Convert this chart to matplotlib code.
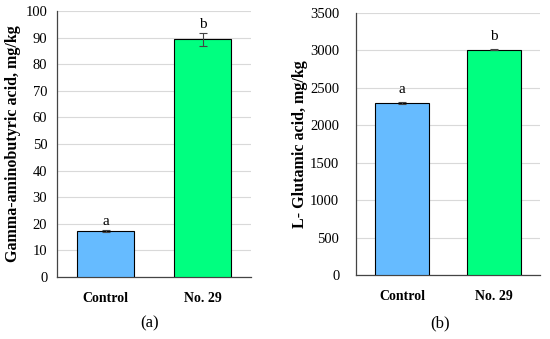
import matplotlib
matplotlib.use("Agg")
import matplotlib.pyplot as plt

categories = ["Control", "No. 29"]
gaba_values = [17.2, 89.3]
gaba_errors = [0.3, 2.3]
glu_values = [2295, 3010]
glu_errors = [10, 10]
gaba_letters = ["a", "b"]
glu_letters = ["a", "b"]
colors = ["#66BBFF", "#00FF80"]

plt.rcParams['font.family'] = ['Liberation Serif', 'DejaVu Serif']

fig = plt.figure(figsize=(5.5, 3.39), dpi=100)
W, H = 550, 339

def make(ax_px, vals, errs, letters, ymax, ystep, ylabel, cap, capx, labx, loff, ypad):
    x0, y0, x1, y1 = ax_px
    ax = fig.add_axes([x0 / W, 1 - y1 / H, (x1 - x0) / W, (y1 - y0) / H])
    xs = range(len(categories))
    ax.bar(xs, vals, width=0.58, color=colors, edgecolor="black", linewidth=0.8, zorder=3)
    ax.errorbar(xs, vals, yerr=errs, fmt="none", ecolor="#444444", elinewidth=0.8,
                capsize=3, capthick=0.8, zorder=4)
    for x, v, e, l in zip(xs, vals, errs, letters):
        ax.text(x, v + e + loff, l, ha="center", va="bottom", fontsize=11)
    ax.set_xlim(-0.5, 1.5)
    ax.set_ylim(0, ymax)
    ax.set_yticks(range(0, ymax + 1, ystep))
    ax.set_xticks(list(xs))
    ax.set_xticklabels(categories, fontweight="bold", fontsize=10)
    ax.tick_params(axis="both", length=0)
    ax.tick_params(axis="y", labelsize=10.5, pad=ypad)
    ax.tick_params(axis="x", pad=11)
    ax.grid(axis="y", color="#d9d9d9", linewidth=0.8, zorder=0)
    for s in ["top", "right"]:
        ax.spines[s].set_visible(False)
    for s in ["left", "bottom"]:
        ax.spines[s].set_color("#444444")
        ax.spines[s].set_linewidth(0.9)
    fig.text(labx / W, 1 - ((y0 + y1) / 2) / H, ylabel, rotation=90, ha="center",
             va="center", fontweight="bold", fontsize=11.5)
    fig.text(capx / W, 1 - 323 / H, cap, ha="center", va="center", fontsize=12)
    return ax

make((57, 11, 251, 277), gaba_values, gaba_errors, gaba_letters, 100, 10,
     "Gamma-aminobutyric acid, mg/kg", "(a)", 150, 13, 1.0, 7)
make((356, 13, 540, 275), glu_values, glu_errors, glu_letters, 3500, 500,
     "L- Glutamic acid, mg/kg", "(b)", 440, 300, 80, 12)

fig.savefig("out.png", dpi=100)
